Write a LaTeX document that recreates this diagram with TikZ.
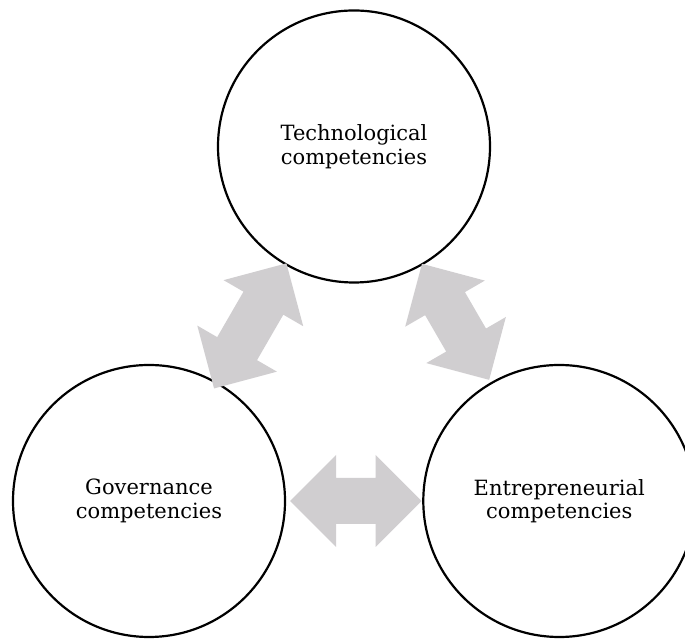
\documentclass[tikz,border=0pt]{standalone}
\usepackage{fontspec}
\setmainfont{DejaVu Serif}
\usetikzlibrary{calc}
\definecolor{arrowgray}{RGB}{208,206,208}
\newcommand{\dblarrow}[2]{%
  \coordinate (ah) at ($(#1)!46pt!(#2)$);
  \coordinate (bh) at ($(#2)!46pt!(#1)$);
  \fill[garrow] (#1)
    -- ($(ah)!46pt!90:(#2)$) -- ($(ah)!23pt!90:(#2)$)
    -- ($(bh)!23pt!-90:(#1)$) -- ($(bh)!46pt!-90:(#1)$)
    -- (#2)
    -- ($(bh)!46pt!90:(#1)$) -- ($(bh)!23pt!90:(#1)$)
    -- ($(ah)!23pt!-90:(#2)$) -- ($(ah)!46pt!-90:(#2)$)
    -- cycle;}
\begin{document}
\begin{tikzpicture}[x=1pt,y=1pt,
  comp/.style={circle, draw=black, line width=2.2pt, minimum size=272pt,
    inner sep=0pt, align=center, font=\fontsize{21}{23.5}\selectfont},
  garrow/.style={fill=arrowgray, draw=none}]
\fill[white] (0,0) rectangle (685,639);
\useasboundingbox (0,0) rectangle (685,639);
\node[comp] (T) at (354,492.5) {Technological\\competencies};
\node[comp] (L) at (149,138) {Governance\\competencies};
\node[comp] (R) at (559.3,138) {Entrepreneurial\\competencies};
\coordinate (tl1) at ($(T.center)!135pt!(L.center)$);
\coordinate (tl2) at ($(L.center)!130pt!(T.center)$);
\coordinate (tr1) at ($(T.center)!135.6pt!(R.center)$);
\coordinate (tr2) at ($(R.center)!140pt!(T.center)$);
\coordinate (b1) at ($(L.center)!141pt!(R.center)$);
\coordinate (b2) at ($(R.center)!137.6pt!(L.center)$);
\dblarrow{tl1}{tl2}
\dblarrow{tr1}{tr2}
\dblarrow{b1}{b2}
\end{tikzpicture}
\end{document}
